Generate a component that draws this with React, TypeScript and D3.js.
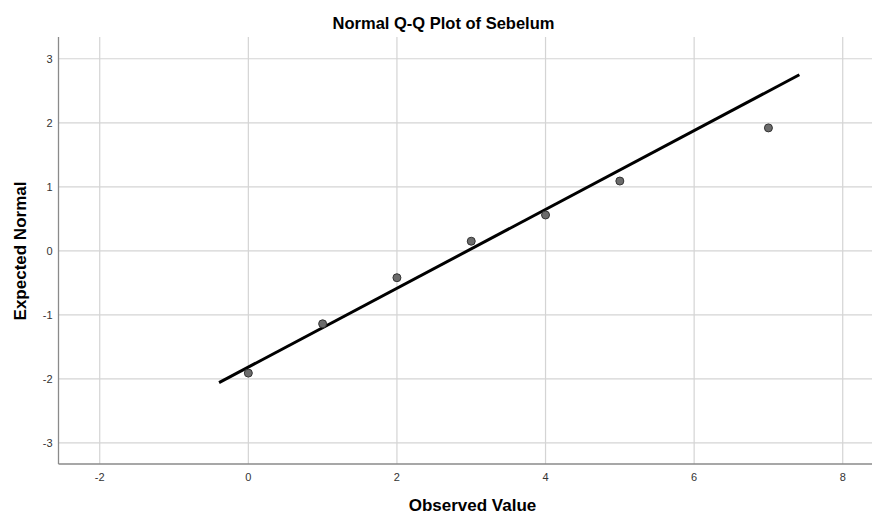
import React from "react";
import * as d3 from "d3";

const observed = [0, 1, 2, 3, 4, 5, 7];
const expected = [-1.91, -1.14, -0.42, 0.15, 0.56, 1.09, 1.92];
const xTicks = [-2, 0, 2, 4, 6, 8];
const yTicks = [-3, -2, -1, 0, 1, 2, 3];
const lineRange = [-0.394, 7.416];
const lineMean = 2.95;
const lineSd = 1.624;

const W = 872;
const H = 516;
const FONT = "'Liberation Sans', Arial, sans-serif";

export default function App() {
  const left = 58.5, right = 872, top = 37, bottom = 464;
  const x = d3.scaleLinear().domain([-2.555, 8.4]).range([left, left + (8.4 + 2.555) * 74.3]);
  const y = d3.scaleLinear().domain([-3.33, 3.34]).range([bottom, top]);
  const line = d3.line<number>().x((d) => x(d)).y((d) => y((d - lineMean) / lineSd));
  return (
    <svg width={W} height={H} style={{ position: "absolute", left: 0, top: 0, background: "#fff" }} fontFamily={FONT}>
      <rect x={0} y={0} width={W} height={H} fill="#fff" />
      {xTicks.map((t) => (
        <line key={"gx" + t} x1={x(t)} x2={x(t)} y1={top} y2={bottom} stroke="#d4d4d4" strokeWidth={1.2} />
      ))}
      {yTicks.map((t) => (
        <line key={"gy" + t} x1={left} x2={right} y1={y(t)} y2={y(t)} stroke="#d4d4d4" strokeWidth={1.2} />
      ))}
      <line x1={left} x2={left} y1={top} y2={bottom} stroke="#8a8a8a" strokeWidth={1.3} />
      <line x1={left} x2={right} y1={bottom} y2={bottom} stroke="#8a8a8a" strokeWidth={1.3} />
      {yTicks.map((t) => (
        <text key={"ty" + t} x={left - 6} y={y(t) + 4} textAnchor="end" fontSize={11} fill="#333">{t}</text>
      ))}
      {xTicks.map((t) => (
        <text key={"tx" + t} x={x(t)} y={bottom + 17} textAnchor="middle" fontSize={11} fill="#333">{t}</text>
      ))}
      <path d={line(lineRange) || ""} stroke="#000" strokeWidth={3} fill="none" />
      {observed.map((o, i) => (
        <circle key={i} cx={x(o)} cy={y(expected[i])} r={4} fill="#6b6b6b" stroke="#333" strokeWidth={1} />
      ))}
      <text x={443.5} y={28.5} textAnchor="middle" fontSize={16.5} fontWeight="bold" fill="#000">Normal Q-Q Plot of Sebelum</text>
      <text x={472.5} y={511} textAnchor="middle" fontSize={17} fontWeight="bold" fill="#000">Observed Value</text>
      <text transform={`translate(25.5,251) rotate(-90)`} textAnchor="middle" fontSize={17} fontWeight="bold" fill="#000">Expected Normal</text>
    </svg>
  );
}
